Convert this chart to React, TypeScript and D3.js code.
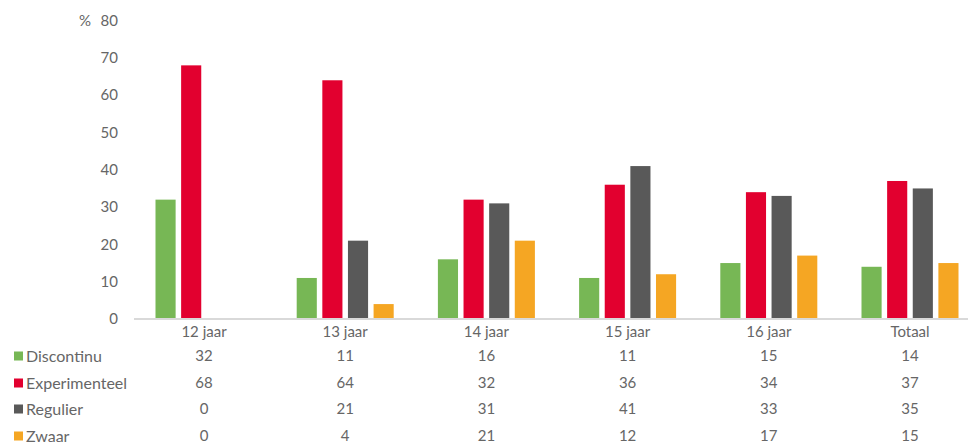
import React from "react";
import * as d3 from "d3";

const categories = ["12 jaar", "13 jaar", "14 jaar", "15 jaar", "16 jaar", "Totaal"];
const seriesNames = ["Discontinu", "Experimenteel", "Regulier", "Zwaar"];
const discontinu = [32, 11, 16, 11, 15, 14];
const experimenteel = [68, 64, 32, 36, 34, 37];
const regulier = [0, 21, 31, 41, 33, 35];
const zwaar = [0, 4, 21, 12, 17, 15];
const yTicks = [0, 10, 20, 30, 40, 50, 60, 70, 80];
const colors = ["#77b755", "#e2002f", "#595959", "#f5a623"];

const seriesValues = [discontinu, experimenteel, regulier, zwaar];

export default function App() {
  const W = 971;
  const H = 446;
  const font = "Lato, 'Open Sans', sans-serif";
  const textColor = "#666666";
  const x0 = d3.scaleBand<string>().domain(categories).range([133.4, 980.6]).paddingInner(0).paddingOuter(0);
  const x1 = d3.scaleBand<string>().domain(seriesNames).range([0, 97]).paddingInner(0.215).paddingOuter(0);
  const y = d3.scaleLinear().domain([0, 80]).range([319, 20.6]);
  const groupOffset = (x0.bandwidth() - 97) / 2;
  const rowY = [356, 383, 409, 436];

  return (
    <div style={{ position: "absolute", left: 0, top: 0 }}>
      <svg width={W} height={H} style={{ display: "block" }} fontFamily={font}>
        <rect width={W} height={H} fill="#ffffff" />
        {yTicks.map((t) => (
          <text key={t} x={118} y={y(t)} dy="0.35em" textAnchor="end" fontSize={15} fill={textColor}>
            {t}
          </text>
        ))}
        <text x={79} y={y(80)} dy="0.35em" fontSize={15} fill={textColor}>%</text>
        {categories.map((c, ci) =>
          seriesNames.map((s, si) => {
            const v = seriesValues[si][ci];
            if (v <= 0) return null;
            return (
              <rect
                key={c + s}
                x={(x0(c) as number) + groupOffset + (x1(s) as number)}
                y={y(v)}
                width={x1.bandwidth()}
                height={y(0) - y(v)}
                fill={colors[si]}
              />
            );
          })
        )}
        <line x1={134} x2={968} y1={319} y2={319} stroke="#d9d9d9" strokeWidth={2} />
        {categories.map((c) => (
          <text key={c} x={(x0(c) as number) + x0.bandwidth() / 2} y={332} dy="0.35em" textAnchor="middle" fontSize={15} fill={textColor}>
            {c}
          </text>
        ))}
        {seriesNames.map((s, si) => (
          <g key={s}>
            <rect x={14} y={rowY[si] - 4.5} width={9} height={9} fill={colors[si]} />
            <text x={26} y={rowY[si]} dy="0.35em" fontSize={16} fill={textColor}>{s}</text>
            {categories.map((c, ci) => (
              <text key={c} x={(x0(c) as number) + x0.bandwidth() / 2} y={rowY[si]} dy="0.35em" textAnchor="middle" fontSize={15} fill={textColor}>
                {seriesValues[si][ci]}
              </text>
            ))}
          </g>
        ))}
      </svg>
    </div>
  );
}
